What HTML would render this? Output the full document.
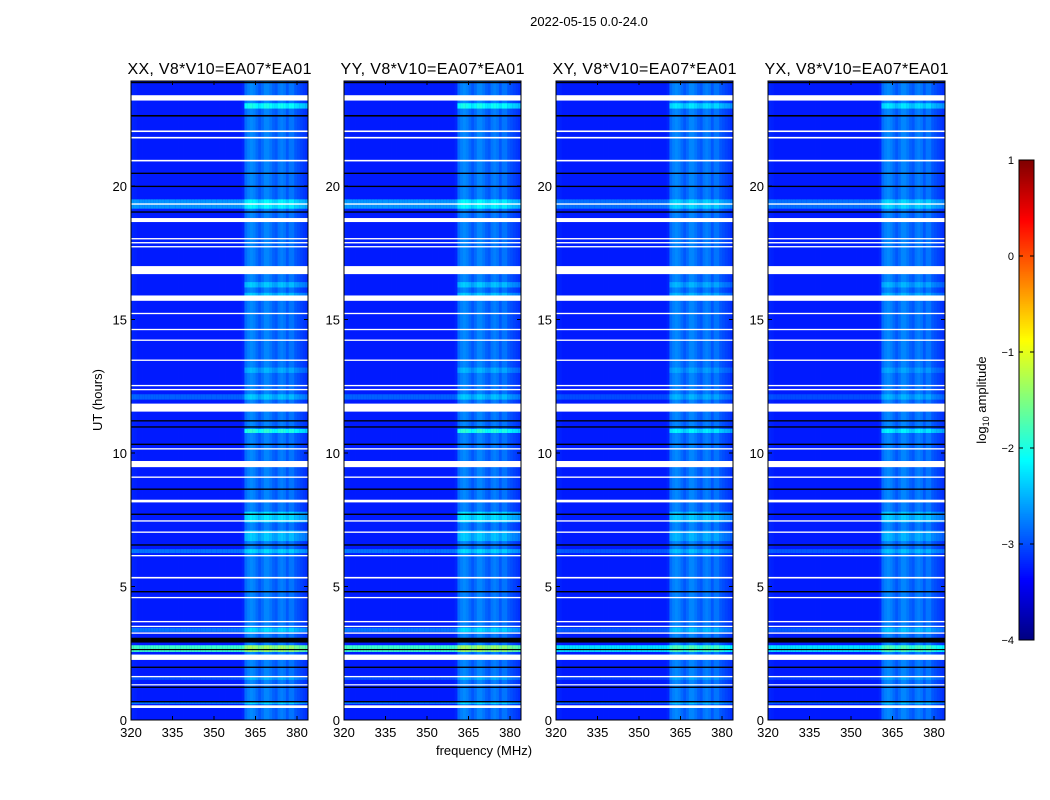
<!DOCTYPE html>
<html><head><meta charset="utf-8"><style>
body{margin:0;background:#fff;width:1050px;height:800px;overflow:hidden;font-family:"Liberation Sans",sans-serif;}
#root{position:relative;width:1050px;height:800px;}
</style></head><body>
<div id="root">
<svg id="svg" width="1050" height="800" style="position:absolute;left:0;top:0"></svg>
</div>
<script>
const panelNames = ["XX","YY","XY","YX"];
const freqStart = 320;
const freqAmp = [-3.2,-3.22,-3.25,-3.25,-3.25,-3.25,-3.25,-3.25,-3.25,-3.25,
-3.25,-3.25,-3.25,-3.25,-3.25,-3.25,-3.25,-3.25,-3.25,-3.25,
-3.25,-3.25,-3.25,-3.25,-3.25,-3.25,-3.25,-3.25,-3.25,-3.25,
-3.25,-3.25,-3.25,-3.25,-3.25,-3.25,-3.25,-3.25,-3.25,-3.25,
-3.2,-2.85,-2.75,-2.7,-2.75,-2.85,-2.95,-2.85,-2.72,-2.72,
-2.8,-2.9,-2.95,-2.8,-2.75,-2.8,-2.95,-2.8,-2.8,-2.95,
-3.0,-3.05,-3.1,-3.15];
// row events: [startHour, endHour, offset] (added to all channels)
const rowOffsets = [[19.15,19.5,0.6],[6.25,6.4,0.45],[3.3,3.45,0.45],[2.55,2.8,1.4],[2.3,2.45,0.7],[0.6,0.68,0.45],[12.0,12.2,0.35],[1.5,1.6,0.25]];
// band events: [startHour, endHour, offset] (only 361+ MHz channels)
const bandOffsets = [[22.9,23.1,0.7],[10.75,10.9,0.8],[7.4,7.8,0.5],[6.7,7.1,0.35],[16.2,16.4,0.35],[15.9,16.0,0.35],[13.0,13.2,0.25]];
// flagged (white) intervals
const flags = [[23.2,23.4],[22.02,22.08],[21.78,21.84],[20.92,20.98],[19.3,19.35],[18.65,18.8],[18.0,18.05],[17.85,17.9],[17.7,17.75],[16.7,17.0],[15.7,15.9],[15.2,15.25],[14.6,14.65],[14.2,14.25],[13.45,13.5],[12.5,12.55],[12.35,12.4],[11.55,11.85],[10.13,10.18],[9.47,9.7],[9.07,9.12],[8.15,8.25],[7.43,7.48],[7.01,7.06],[6.13,6.18],[5.3,5.36],[4.56,4.61],[3.66,3.71],[3.48,3.53],[3.23,3.28],[2.25,2.45],[1.6,1.65],[1.3,1.34],[0.45,0.55]];
// dead (black) rows
const deadRows = [[23.85,23.9],[22.6,22.66],[20.45,20.5],[19.96,20.01],[19.0,19.05],[11.18,11.23],[10.95,11.0],[10.3,10.35],[8.62,8.67],[7.68,7.73],[6.53,6.58],[4.78,4.83],[2.9,3.08],[2.62,2.66],[1.95,2.0],[1.2,1.25],[0.66,0.71]];
const panelScale = [1,1,0.7,0.7];
const hourTicks = [0,5,10,15,20];
const freqTicks = [320,335,350,365,380];
const cbTicks = [1,0,-1,-2,-3,-4];

const svg = document.getElementById('svg');
const NS = "http://www.w3.org/2000/svg";
function mk(tag, attrs, parent){const e=document.createElementNS(NS,tag);for(const k in attrs)e.setAttribute(k,attrs[k]);(parent||svg).appendChild(e);return e;}
function clamp(v){return Math.max(0,Math.min(1,v));}
function jet(x){const r=clamp(1.5-Math.abs(4*x-3)),g=clamp(1.5-Math.abs(4*x-2)),b=clamp(1.5-Math.abs(4*x-1));return `rgb(${Math.round(r*255)},${Math.round(g*255)},${Math.round(b*255)})`;}
function colorOf(v){return jet((v+4)/5);}
const panelLeft=[131,344,556,768], pW=177, pTop=81, pBot=720;
const pxPerMHz = 166/60, pxPerHour = (720-186)/20;

const t=mk('text',{x:589,y:26,'text-anchor':'middle','font-size':13,fill:'#000'});
t.textContent="2022-05-15 0.0-24.0";



panelNames.forEach((name,pi)=>{
  const L=panelLeft[pi];
  const xS=f=>L+(f-freqStart)*pxPerMHz;
  const yS=h=>pBot-h*pxPerHour;
  const g=mk('g',{});
  
  
  const clip=mk('clipPath',{id:'c'+pi},g);mk('rect',{x:L,y:pTop,width:pW,height:pBot-pTop},clip);
  const hm=mk('g',{'clip-path':`url(#c${pi})`},g);
  
  
  const sc=panelScale[pi];
  freqAmp.forEach((a,i)=>{
    const f=freqStart+i;
    const c=mk('rect',{x:xS(f),y:pTop,width:pxPerMHz+0.4,height:pBot-pTop,fill:colorOf(a)},hm);
    
    
    rowOffsets.forEach(r=>{
      const cell=mk('rect',{x:xS(f),y:yS(r[1]),width:pxPerMHz+0.4,height:(r[1]-r[0])*pxPerHour,fill:colorOf(a+r[2]*sc)},hm);
      
      
    });
    if(f>=361) bandOffsets.forEach(r=>{
      const cell=mk('rect',{x:xS(f),y:yS(r[1]),width:pxPerMHz+0.4,height:(r[1]-r[0])*pxPerHour,fill:colorOf(a+r[2]*sc)},hm);
      
      
    });
  });
  flags.forEach(r=>{const e=mk('rect',{x:L,y:yS(r[1]),width:pW,height:Math.max(1.2,(r[1]-r[0])*pxPerHour),fill:'#fff'},hm);
    
    });
  deadRows.forEach(r=>{const e=mk('rect',{x:L,y:yS(r[1]),width:pW,height:Math.max(1.2,(r[1]-r[0])*pxPerHour),fill:'#000'},hm);
    
    });
  mk('rect',{x:L,y:pTop,width:pW,height:pBot-pTop,fill:'none',stroke:'#000','stroke-width':1},g);
  hourTicks.forEach(h=>{const y=yS(h);
    mk('line',{x1:L,x2:L+4,y1:y,y2:y,stroke:'#000'},g);mk('line',{x1:L+pW,x2:L+pW-4,y1:y,y2:y,stroke:'#000'},g);
    const tl=mk('text',{x:L-4,y:y+5,'text-anchor':'end','font-size':13},g);tl.textContent=h;
    
    });
  freqTicks.forEach(f=>{const x=xS(f);
    mk('line',{x1:x,x2:x,y1:pBot,y2:pBot-4,stroke:'#000'},g);mk('line',{x1:x,x2:x,y1:pTop,y2:pTop+4,stroke:'#000'},g);
    const tl=mk('text',{x:x,y:737,'text-anchor':'middle','font-size':13},g);tl.textContent=f;
    
    });
  const pt=mk('text',{x:L+pW/2,y:74,'text-anchor':'middle','font-size':16,textLength:184},g);
  pt.textContent=name+", V8*V10=EA07*EA01";
  
  
});
const yl=mk('text',{x:102,y:400,'text-anchor':'middle','font-size':13,transform:'rotate(-90 102 400)'});
yl.textContent="UT (hours)";


const xl=mk('text',{x:484,y:755,'text-anchor':'middle','font-size':13});
xl.textContent="frequency (MHz)";



// colorbar
const cb=mk('g',{});


const cbTop=160,cbBot=640,cbL=1019,cbW=15;
for(let i=0;i<240;i++){const v=-4+5*(i+0.5)/240;
  mk('rect',{x:cbL,y:cbBot-(i+1)*2,width:cbW,height:2.3,fill:colorOf(v)},cb);}
mk('rect',{x:cbL,y:cbTop,width:cbW,height:cbBot-cbTop,fill:'none',stroke:'#000'},cb);
cbTicks.forEach(v=>{const y=cbBot-(v+4)/5*(cbBot-cbTop);
  mk('line',{x1:cbL,x2:cbL+4,y1:y,y2:y,stroke:'#000'},cb);mk('line',{x1:cbL+cbW,x2:cbL+cbW-4,y1:y,y2:y,stroke:'#000'},cb);
  const tl=mk('text',{x:cbL-5,y:y+4,'text-anchor':'end','font-size':11},cb);tl.textContent=v<0?"\u2212"+(-v):v;
  
  });
const cl=mk('text',{x:986,y:400,'text-anchor':'middle','font-size':13,transform:'rotate(-90 986 400)'});
cl.innerHTML='log<tspan font-size="9" dy="3">10</tspan><tspan dy="-3"> amplitude</tspan>';


</script>
</body></html>
